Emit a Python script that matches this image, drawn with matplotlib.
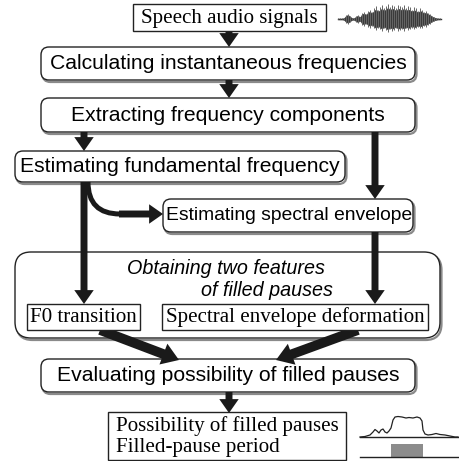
import matplotlib
matplotlib.use("Agg")
import matplotlib.pyplot as plt
from matplotlib.patches import FancyBboxPatch, Rectangle, FancyArrowPatch, PathPatch
from matplotlib.path import Path

# ---- data ----
rect_labels = ["Speech audio signals", "F0 transition", "Spectral envelope deformation"]
round_labels = ["Calculating instantaneous frequencies",
                "Extracting frequency components",
                "Estimating fundamental frequency",
                "Estimating spectral envelope",
                "Evaluating possibility of filled pauses"]
group_label = ["Obtaining two features", "of filled pauses"]
output_labels = ["Possibility of filled pauses", "Filled-pause period"]

# waveform amplitude envelope (px), sampled every 2 px
wave_env = [0.5, 0.5, 0.5, 1, 4, 5, 3, 1, 0.8, 3, 4, 2, 6, 7, 5, 8, 9, 7, 10, 12,
            9, 11, 13, 10, 12, 14, 11, 13, 12, 10, 13, 12, 11, 13, 10, 12, 11, 9,
            11, 10, 8, 10, 9, 7, 8, 6, 5, 3, 2, 1, 0.5, 0.5]
# possibility curve: x positions and heights above baseline
poss_x = [360, 365, 370, 373, 375, 377, 379, 381, 383, 385, 387, 389, 391, 393, 395,
          398, 402, 406, 409, 413, 417, 420, 422, 423, 425, 428, 432, 436, 440, 445,
          450, 455, 458]
poss_h = [0, 0.5, 2, 5, 7.5, 6, 4, 7, 8, 5, 4, 6, 9, 17, 20, 20.5, 20, 19, 19.5, 19,
          20, 19, 16, 7, 3, 2, 2.5, 3.5, 2.5, 2, 1, 0, 0]
pause_span = [391, 423]

fig = plt.figure(figsize=(4.6, 4.61), dpi=100)
ax = fig.add_axes([0, 0, 1, 1])
ax.set_xlim(0, 460)
ax.set_ylim(461, 0)
ax.axis("off")

SANS = "Liberation Sans"
SERIF = "Liberation Serif"
FS_SANS = 15.2
FS_SERIF = 15.1


def rbox(x0, y0, x1, y1, r=8, shadow=True):
    if shadow:
        ax.add_patch(FancyBboxPatch((x0 + 1.5, y0 + 2), x1 - x0, y1 - y0,
                                    boxstyle=f"round,pad=0,rounding_size={r}",
                                    fc="none", ec="#8a8a8a", lw=1.6, zorder=1))
    ax.add_patch(FancyBboxPatch((x0, y0), x1 - x0, y1 - y0,
                                boxstyle=f"round,pad=0,rounding_size={r}",
                                fc="white", ec="#222222", lw=1.0, zorder=2))


def sbox(x0, y0, x1, y1):
    ax.add_patch(Rectangle((x0, y0), x1 - x0, y1 - y0, fc="white",
                           ec="#222222", lw=1.0, zorder=4))


def arrow(p0, p1, tw=5, hw=14, hl=10):
    ax.add_patch(FancyArrowPatch(p0, p1,
                                 arrowstyle=f"simple,head_length={hl},head_width={hw},tail_width={tw}",
                                 fc="#1a1a1a", ec="none", lw=0,
                                 shrinkA=0, shrinkB=0, zorder=3))


# top rect box
sbox(133, 4, 326, 31)
ax.text(229.5, 18, rect_labels[0], family=SERIF, fontsize=FS_SERIF,
        ha="center", va="center", zorder=5)

# waveform
wx = [338 + 2 * i for i in range(len(wave_env))]
ax.plot([338, 441], [19, 19], color="#333333", lw=1.0, zorder=2)
ax.fill_between(wx, [19 - a * 0.8 for a in wave_env], [19 + a * 0.75 for a in wave_env],
                color="#3a3a3a", lw=0.4, zorder=2)
ax.vlines(wx, [19 - a * 1.05 for a in wave_env], [19 + a * 0.95 for a in wave_env],
          color="#666666", lw=0.7, zorder=2)

# arrows main column
arrow((229, 31), (229, 47))
rbox(41, 47, 415, 80)
ax.text(228, 63.5, round_labels[0], family=SANS, fontsize=FS_SANS,
        ha="center", va="center", zorder=5)
arrow((229, 80), (229, 98))
rbox(41, 98, 415, 132)
ax.text(228, 115, round_labels[1], family=SANS, fontsize=FS_SANS,
        ha="center", va="center", zorder=5)

arrow((84, 132), (84, 151))
arrow((375, 132), (375, 199))
rbox(15, 151, 345, 182)
ax.text(180, 166.5, round_labels[2], family=SANS, fontsize=FS_SANS,
        ha="center", va="center", zorder=5)
rbox(163, 199, 413, 232)
ax.text(289, 215.5, round_labels[3], family=SANS, fontsize=13.9,
        ha="center", va="center", zorder=5)

# curved arrow (curve stroke + straight head)
cpath = Path([(88, 182), (88, 214), (120, 214)],
             [Path.MOVETO, Path.CURVE3, Path.CURVE3])
ax.add_patch(PathPatch(cpath, fc="none", ec="#1a1a1a", lw=3.6,
                       capstyle="butt", zorder=3))
arrow((119, 214), (163, 214))

# group box
rbox(15, 252, 440, 338, r=16)
ax.text(226, 268, group_label[0], family=SANS, fontsize=14.2, style="italic",
        ha="center", va="center", zorder=5)
ax.text(333, 290, group_label[1], family=SANS, fontsize=14.2, style="italic",
        ha="right", va="center", zorder=5)

arrow((84, 182), (84, 304))
arrow((375, 232), (375, 304))

sbox(27, 304, 140, 330)
ax.text(83.5, 317, rect_labels[1], family=SERIF, fontsize=FS_SERIF,
        ha="center", va="center", zorder=5)
sbox(162, 304, 428, 330)
ax.text(295, 317, rect_labels[2], family=SERIF, fontsize=FS_SERIF,
        ha="center", va="center", zorder=5)

# diagonal arrows
arrow((100, 330), (179, 360), tw=7, hw=16, hl=12)
arrow((358, 330), (276, 360), tw=7, hw=16, hl=12)

rbox(41, 359, 415, 392)
ax.text(228, 375.5, round_labels[4], family=SANS, fontsize=FS_SANS,
        ha="center", va="center", zorder=5)
arrow((229, 392), (229, 413))

# output box
sbox(108, 412, 346, 460)
ax.text(116, 426, output_labels[0], family=SERIF, fontsize=FS_SERIF,
        ha="left", va="center", zorder=5)
ax.text(116, 447, output_labels[1], family=SERIF, fontsize=FS_SERIF,
        ha="left", va="center", zorder=5)

# small result graph
ax.plot(poss_x, [437 - h for h in poss_h], color="#222222", lw=0.9, zorder=3)
ax.plot([360, 460], [437, 437], color="#222222", lw=1.0, zorder=3)
ax.plot([360, 460], [457, 457], color="#222222", lw=1.0, zorder=3)
ax.add_patch(Rectangle((pause_span[0], 444), pause_span[1] - pause_span[0], 13,
                       fc="#8c8c8c", ec="none", zorder=2))

fig.savefig("out.png", dpi=100)
